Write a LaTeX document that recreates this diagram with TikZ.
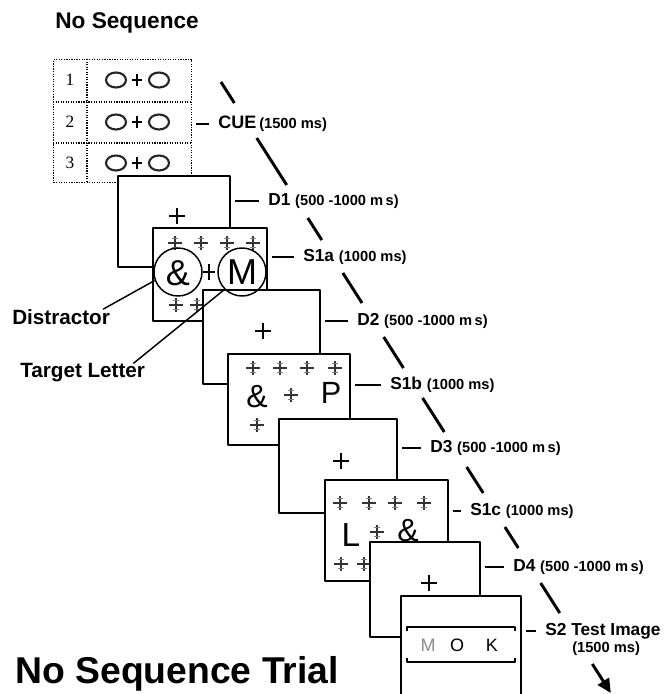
\documentclass[tikz,border=0pt]{standalone}
\usepackage{fontspec}
\setmainfont{Liberation Sans}
\newfontfamily\cuenumfont{Liberation Serif}
\usetikzlibrary{arrows.meta}
% one unit = one pixel of the reference
\newdimen\pxu \pxu=0.75pt
\newcommand{\durtext}[1]{{\fontsize{11}{13}\selectfont #1}}
% fixation cross of the delay screens
\newcommand{\fixcross}[1]{\draw[fix] (#1) +(-8,0) -- +(8,0) +(0,-8) -- +(0,8);}
% fuzzy cross of the stimulus screens
\newcommand{\stimcross}[1]{%
  \draw[stim] (#1) +(-7,0) -- +(7,0) +(0,-7) -- +(0,7);
  \draw[stimtick] (#1) +(-3,-4.5) -- +(3,-4.5) +(-3,4.5) -- +(3,4.5);}
\tikzset{
  screen/.style={draw, line width=1.4pt, fill=white, anchor=north west, inner sep=0pt},
  cuebox/.style={draw, densely dotted, line width=0.9pt, anchor=north west, inner sep=0pt},
  cueline/.style={densely dotted, line width=0.9pt},
  cueO/.style={line width=1.6pt, black!85},
  lbl/.style={anchor=west, inner sep=0pt, font=\bfseries\fontsize{13}{15}\selectfont},
  side/.style={anchor=west, inner sep=0pt, font=\bfseries\fontsize{15.5}{17}\selectfont},
  lead/.style={line width=1.3pt, shorten <=4\pxu, shorten >=9\pxu},
  pointer/.style={line width=1.1pt},
  diag/.style={line width=2.2pt},
  fix/.style={line width=1.3pt},
  stim/.style={line width=1.3pt, black!80},
  stimtick/.style={line width=0.6pt, black!50},
  ring/.style={draw, circle, line width=1.1pt, inner sep=0pt, minimum size=48\pxu},
  glyph/.style={inner sep=0pt, font=\fontsize{27}{29}\selectfont},
  keyglyph/.style={inner sep=0pt, font=\fontsize{13.5}{15}\selectfont},
}
\begin{document}
\begin{tikzpicture}[x=0.75pt, y=-0.75pt, line join=round, >=stealth]
\clip (0,0) rectangle (672,694);
\fill[white] (0,0) rectangle (672,694);
% Title
\node[anchor=west, inner sep=0pt, font=\bfseries\fontsize{17}{19}\selectfont] (title) at (55,23) {No Sequence};
% Cue screen: three rows
\node[cuebox, minimum width=138\pxu, minimum height=123\pxu] (cue) at (53,59) {};
\draw[cueline] (87,59) -- (87,182);
\draw[cueline] (53,102) -- (191,102);
\draw[cueline] (53,143) -- (191,143);
\foreach \i/\yy in {1/80, 2/122, 3/163} {
\node[inner sep=0pt, font=\cuenumfont\fontsize{13}{15}\selectfont] (num\i) at (70,\yy) {\i};
\draw[cueO] (116,\yy) ellipse (10 and 7.5);
\draw[cueO] (159,\yy) ellipse (10 and 7.5);
\draw[line width=1pt] (137,\yy) +(-5,0) -- +(5,0) +(0,-6) -- +(0,6);
}
% D1
\node[screen, minimum width=112\pxu, minimum height=91\pxu] (d1) at (117,175) {};
\fixcross{177,216}
% S1a
\node[screen, minimum width=114\pxu, minimum height=93\pxu] (s1a) at (152,227) {};
\foreach \xx in {175,201,227,253} {\stimcross{\xx,243}}
\foreach \xx in {176,197} {\stimcross{\xx,305}}
\node[glyph] (amp1) at (178,273) {\&};
\node[glyph] (letM) at (242,272) {M};
\draw[line width=0.8pt] (209,272) +(-6,0) -- +(6,0) +(0,-8) -- +(0,8);
% D2
\node[screen, minimum width=117\pxu, minimum height=94\pxu] (d2) at (202,289) {};
\fixcross{263,331}
% S1b
\node[screen, minimum width=122\pxu, minimum height=91\pxu] (s1b) at (227,353) {};
\foreach \xx in {253,280,307,335} {\stimcross{\xx,368}}
\stimcross{257,425}
\stimcross{291,395}
\node[glyph, font=\fontsize{24}{26}\selectfont] (amp2) at (257,397) {\&};
\node[glyph, font=\fontsize{23}{25}\selectfont] (letP) at (331,393) {P};
% D3
\node[screen, minimum width=118\pxu, minimum height=94\pxu] (d3) at (278,418) {};
\fixcross{341,461}
% S1c
\node[screen, minimum width=123\pxu, minimum height=101\pxu] (s1c) at (324,479) {};
\foreach \xx in {340,369,395,424} {\stimcross{\xx,503}}
\foreach \xx in {341,364} {\stimcross{\xx,564}}
\stimcross{377,532}
\node[glyph, font=\fontsize{25}{27}\selectfont] (letL) at (351,535) {L};
\node[glyph, font=\fontsize{24}{26}\selectfont] (amp3) at (408,531) {\&};
% D4
\node[screen, minimum width=110\pxu, minimum height=95\pxu] (d4) at (369,541) {};
\fixcross{429,583}
% S2 test image
\node[screen, minimum width=120\pxu, minimum height=130\pxu] (s2) at (400,595) {};
\draw[line width=1pt] (407,631) -- (407,627) -- (515,627) -- (515,631);
\draw[line width=1pt] (407,658) -- (407,662) -- (515,662) -- (515,658);
\node[keyglyph, text=black!45] (key1) at (428,645) {M};
\node[keyglyph] (key2) at (457,645) {O};
\node[keyglyph] (key3) at (492,645) {K};
% Circles and side labels
\node[ring] (distc) at (178,272) {};
\node[ring] (tgtc) at (242,272) {};
\node[side] (distlbl) at (12,317) {Distractor};
\node[side] (tgtlbl) at (20,373) {Target Letter};
\draw[pointer] ([xshift=-7\pxu]distlbl.north east) -- (distc.200);
\draw[pointer] ([xshift=-12\pxu]tgtlbl.north east) -- (tgtc.225);
% Screen labels
\node[lbl, font=\bfseries\fontsize{13.5}{15}\selectfont] (cuelbl) at (218,124) {CUE\,\durtext{(1500 ms)}};
\node[lbl] (d1lbl) at (268,201) {D1 \durtext{(500 -1000 m\,s)}};
\node[lbl] (s1albl) at (303,257) {S1a \durtext{(1000 ms)}};
\node[lbl] (d2lbl) at (357,321) {D2 \durtext{(500 -1000 m\,s)}};
\node[lbl] (s1blbl) at (390,385) {S1b \durtext{(1000 ms)}};
\node[lbl] (d3lbl) at (430,448) {D3 \durtext{(500 -1000 m\,s)}};
\node[lbl] (s1clbl) at (470,511) {S1c \durtext{(1000 ms)}};
\node[lbl] (d4lbl) at (513,567) {D4 \durtext{(500 -1000 m\,s)}};
\node[lbl] (s2lbl) at (545,631) {S2 Test Image};
\node[lbl, font=\bfseries\fontsize{11}{13}\selectfont] (s2dur) at (572,649) {(1500 ms)};
\foreach \b in {cue, d1, s1a, d2, s1b, d3, s1c, d4, s2} {
\draw[lead] (\b.east |- \b lbl.west) -- (\b lbl.west);
}
% Time line, broken at the labels
\foreach \ya/\yb in {82/103, 138/185, 218/240, 273/303, 337/368, 398/432, 467/493, 527/548, 583/613} {
\pgfmathsetmacro{\xa}{221+0.638*(\ya-82)}
\pgfmathsetmacro{\xb}{221+0.638*(\yb-82)}
\draw[diag] (\xa,\ya) -- (\xb,\yb);
}
\pgfmathsetmacro{\xa}{221+0.638*(664-82)}
\pgfmathsetmacro{\xb}{221+0.638*(693-82)}
\coordinate (arrs) at (\xa,664);
\coordinate (arre) at (\xb,693);
\draw[diag, -{Triangle[length=10.5pt, width=9.75pt]}] (arrs) -- (arre);
% Bottom title
\node[anchor=base west, inner sep=0pt, font=\bfseries\fontsize{28}{30}\selectfont] (trial) at (15,683) {No Sequence Trial};
\end{tikzpicture}
\end{document}
